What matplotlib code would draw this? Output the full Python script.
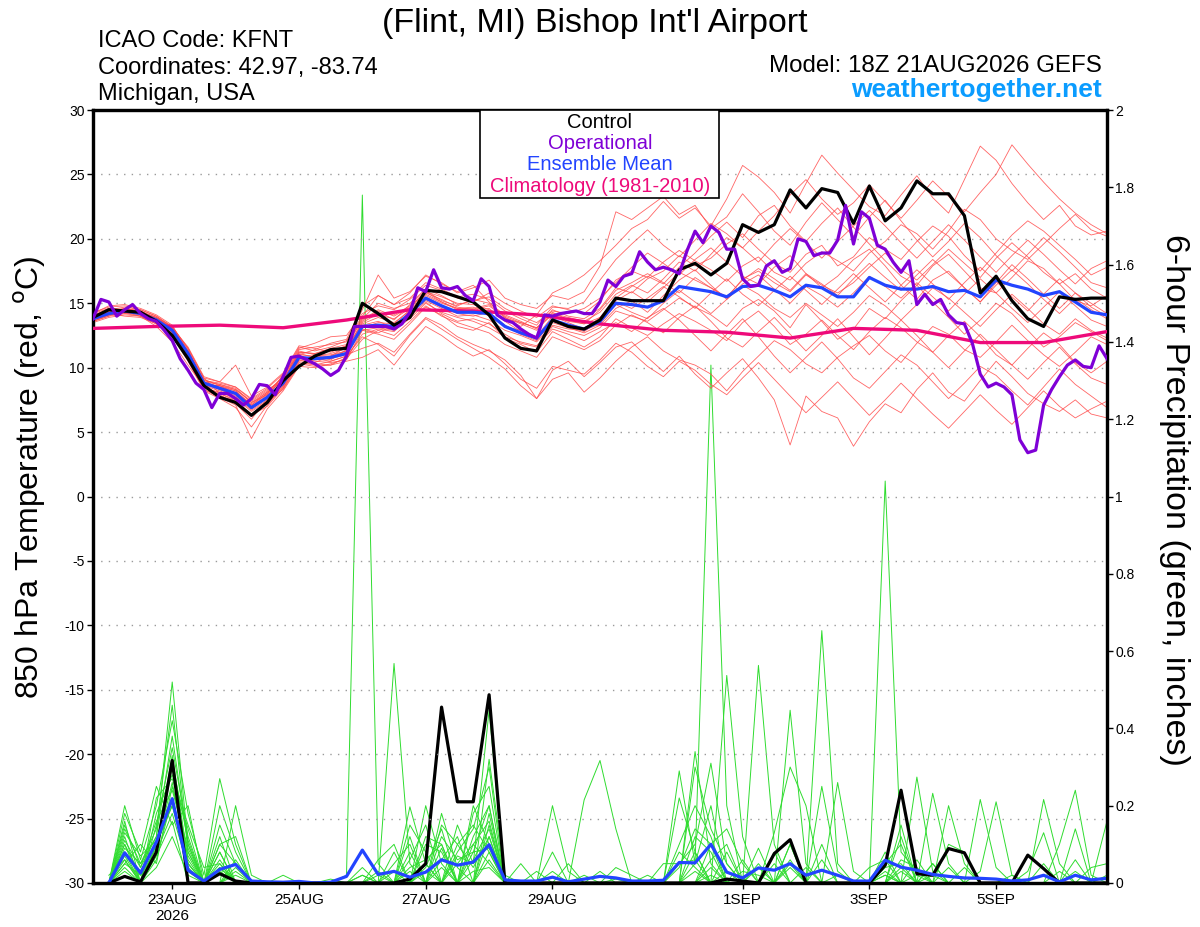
import numpy as np
import matplotlib
matplotlib.use("Agg")
import matplotlib.pyplot as plt
from matplotlib.patches import Rectangle
from matplotlib.ticker import FuncFormatter

plt.rcParams['font.family'] = ['Liberation Sans', 'DejaVu Sans']
plt.rcParams['axes.unicode_minus'] = False

# --- data (hours after 18Z 21AUG2026) ---
tick_hours = [30, 78, 126, 174, 246, 294, 342]
tick_labels = ['23AUG\n2026', '25AUG', '27AUG', '29AUG', '1SEP', '3SEP', '5SEP']

# 850 hPa temperature, 6-hourly from h0
control_temp = [13.9, 14.5, 14.4, 14.3, 13.6, 12.5, 10.7, 8.6, 7.7, 7.3, 6.3, 7.3, 9.0, 10.1, 10.9, 11.4, 11.5,
                15.0, 14.2, 13.3, 13.9, 16.0, 15.9, 15.5, 15.1, 14.1, 12.3, 11.5, 11.3, 13.7, 13.2, 13.0, 13.7,
                15.4, 15.2, 15.2, 15.2, 17.6, 18.1, 17.2, 18.1, 21.1, 20.5, 21.1, 23.8, 22.4, 23.9, 23.6, 21.2,
                24.1, 21.4, 22.4, 24.5, 23.5, 23.5, 21.8, 15.8, 17.1, 15.2, 13.8, 13.2, 15.5, 15.3, 15.4, 15.4]
mean_temp = [13.8, 14.2, 14.4, 14.2, 13.7, 12.9, 11.1, 8.8, 8.4, 8.0, 6.9, 7.7, 8.8, 10.8, 10.7, 10.8, 11.1,
             13.2, 13.3, 13.2, 14.2, 15.4, 14.8, 14.3, 14.3, 14.2, 13.2, 12.7, 12.3, 13.7, 13.3, 13.0, 13.6,
             15.0, 14.9, 14.7, 15.2, 16.3, 16.1, 15.9, 15.5, 16.3, 16.4, 16.0, 15.5, 16.4, 16.2, 15.5, 15.5,
             17.0, 16.4, 16.1, 16.1, 16.3, 15.9, 16.0, 15.5, 16.8, 16.4, 16.1, 15.6, 15.9, 15.1, 14.3, 14.1]
# operational run, 3-hourly from h0
oper_temp = [13.8, 15.3, 15.1, 14.0, 14.5, 14.9, 14.2, 13.8, 13.6, 12.9, 12.1, 10.7, 9.8, 8.8, 8.3, 6.9,
             8.0, 8.0, 7.6, 7.1, 7.6, 8.7, 8.6, 7.9, 9.3, 10.8, 10.9, 10.6, 10.3, 9.9, 9.4, 9.8,
             10.9, 13.2, 13.2, 13.2, 13.2, 13.2, 13.0, 13.4, 14.3, 16.2, 15.9, 17.6, 16.2, 16.1, 16.3, 15.6,
             15.2, 16.9, 16.3, 14.1, 13.7, 13.5, 13.0, 12.6, 12.3, 14.1, 14.0, 14.2, 14.3, 14.4, 14.2, 14.2,
             15.1, 16.8, 16.3, 17.1, 17.3, 19.0, 18.2, 17.6, 17.8, 17.6, 17.3, 19.1, 20.6, 19.7, 21.0, 20.5,
             19.2, 19.2, 16.9, 16.3, 16.4, 17.9, 18.3, 17.4, 17.7, 20.0, 19.8, 18.7, 18.9, 18.9, 19.9, 22.6,
             19.6, 22.1, 21.6, 19.5, 19.2, 18.2, 17.4, 18.3, 14.9, 15.7, 14.9, 15.3, 14.1, 13.5, 13.4, 11.9,
             9.5, 8.5, 8.8, 8.5, 7.9, 4.4, 3.4, 3.6, 7.1, 8.3, 9.3, 10.2, 10.6, 10.1, 10.0, 11.7, 10.7]
# climatology, daily
clim_temp = [13.05, 13.2, 13.3, 13.1, 13.7, 14.5, 14.4, 14.1, 13.4, 12.9, 12.75, 12.3, 13.05, 12.9,
             11.95, 11.95, 12.8]

# ensemble members, 6-hourly from h0
temp_members = [
    [14.0, 14.6, 14.3, 14.0, 13.2, 12.0, 10.2, 8.5, 7.9, 7.2, 6.0, 7.6, 9.5, 11.0, 11.4, 11.9, 12.2,
     14.8, 15.6, 14.9, 15.8, 17.2, 16.5, 15.9, 16.4, 15.1, 13.9, 13.2, 14.1, 15.8, 16.4, 17.2, 18.3,
     19.5, 20.8, 21.5, 22.9, 21.6, 22.4, 21.0, 23.1, 25.7, 24.8, 23.6, 22.0, 24.3, 26.5, 25.1, 23.8,
     22.5, 21.8, 23.4, 24.9, 23.2, 22.0, 24.6, 27.2, 26.1, 24.3, 22.8, 21.5, 22.6, 21.0, 20.3, 20.6],
    [13.6, 14.0, 14.5, 14.3, 13.9, 13.1, 11.5, 9.2, 8.0, 7.5, 6.3, 7.0, 8.4, 10.4, 10.2, 10.5, 10.9,
     12.4, 11.8, 10.9, 12.5, 13.8, 13.0, 12.2, 11.5, 10.8, 9.9, 8.6, 7.6, 9.8, 10.5, 9.3, 10.4,
     11.6, 12.0, 10.8, 9.7, 10.9, 9.5, 8.4, 9.6, 10.7, 9.2, 7.5, 4.0, 7.8, 6.6, 6.1, 3.9,
     5.8, 7.2, 6.5, 8.3, 9.6, 8.1, 7.4, 9.0, 10.5, 9.3, 8.0, 7.2, 6.6, 7.5, 6.4, 6.1],
    [13.9, 14.3, 14.6, 14.4, 13.8, 13.0, 11.0, 8.7, 8.6, 8.3, 7.4, 8.2, 9.2, 11.3, 11.0, 10.6, 11.4,
     13.6, 14.4, 13.7, 14.9, 16.0, 15.2, 14.8, 15.3, 15.0, 14.1, 13.6, 13.0, 14.5, 14.0, 13.8, 14.6,
     16.2, 15.8, 16.9, 17.5, 18.7, 17.9, 18.5, 19.6, 20.4, 19.2, 18.1, 17.4, 18.8, 19.5, 17.9, 18.6,
     20.1, 19.2, 18.4, 19.8, 21.0, 20.2, 18.7, 17.5, 18.9, 20.3, 21.4, 20.6, 19.5, 18.4, 17.2, 17.8],
    [13.7, 14.1, 14.2, 14.0, 13.5, 12.6, 10.8, 8.4, 8.1, 7.6, 6.6, 7.4, 8.3, 10.2, 10.4, 10.9, 11.3,
     12.9, 12.6, 12.2, 13.4, 14.7, 14.1, 13.2, 12.9, 13.5, 12.3, 11.8, 11.2, 12.8, 12.2, 11.6, 12.4,
     13.8, 13.1, 12.5, 13.4, 14.2, 13.6, 12.9, 12.1, 13.5, 14.4, 13.2, 11.8, 12.6, 13.7, 12.5, 11.4,
     12.8, 13.9, 13.1, 12.0, 11.2, 12.5, 13.6, 12.4, 11.0, 10.2, 11.5, 12.7, 11.8, 10.4, 9.6, 10.5],
    [14.1, 14.5, 14.7, 14.5, 14.0, 13.2, 11.4, 9.0, 8.8, 8.5, 7.5, 8.3, 9.0, 11.2, 11.1, 11.5, 11.8,
     13.9, 14.1, 13.8, 14.6, 15.9, 15.5, 15.0, 14.9, 14.5, 13.8, 13.5, 13.1, 14.1, 13.6, 13.4, 13.9,
     15.4, 16.3, 17.1, 16.5, 17.8, 18.9, 20.2, 21.3, 20.1, 21.8, 22.6, 21.0, 19.8, 21.2, 22.4, 20.9,
     19.6, 18.3, 17.1, 16.4, 17.9, 18.8, 17.5, 16.2, 15.8, 17.0, 18.3, 17.7, 16.5, 15.2, 14.8, 15.6],
    [13.5, 13.9, 14.1, 14.0, 13.4, 12.5, 10.5, 8.2, 7.6, 6.9, 5.4, 7.1, 8.6, 10.6, 10.3, 10.2, 10.8,
     12.6, 13.0, 12.8, 14.0, 15.1, 14.2, 13.6, 13.8, 13.4, 12.6, 11.9, 11.6, 13.2, 12.8, 12.5, 13.1,
     14.4, 14.0, 13.6, 14.5, 15.4, 14.7, 14.1, 13.2, 14.6, 15.3, 14.4, 13.1, 14.9, 13.6, 12.2, 13.0,
     14.6, 13.8, 15.2, 16.4, 15.1, 13.9, 12.6, 13.7, 15.0, 14.2, 12.9, 11.6, 12.4, 13.5, 12.8, 12.1],
    [14.2, 14.8, 14.9, 14.6, 14.1, 13.3, 11.2, 9.1, 8.6, 8.0, 7.1, 8.0, 9.4, 11.5, 11.9, 12.4, 12.5,
     14.2, 14.8, 14.5, 15.3, 16.4, 16.0, 15.4, 15.1, 15.8, 15.0, 14.4, 13.9, 14.8, 14.5, 14.2, 15.2,
     16.8, 17.5, 17.0, 18.2, 19.1, 18.3, 17.6, 16.7, 17.9, 18.6, 17.4, 16.8, 18.1, 19.0, 18.3, 17.5,
     18.9, 19.8, 21.1, 20.4, 19.2, 20.6, 22.3, 21.5, 20.0, 19.1, 18.4, 19.6, 20.8, 21.9, 20.7, 20.2],
    [13.8, 14.2, 14.5, 14.1, 13.6, 12.8, 10.9, 8.6, 8.2, 7.7, 6.7, 7.5, 8.5, 10.5, 10.6, 10.7, 11.0,
     11.5, 11.9, 11.2, 12.6, 13.9, 13.3, 12.4, 11.8, 11.3, 10.6, 9.4, 7.6, 9.1, 9.6, 8.1, 9.2,
     10.5, 11.6, 12.4, 11.3, 10.6, 10.2, 9.5, 8.2, 9.7, 10.9, 12.1, 11.4, 10.3, 9.6, 10.8, 11.7,
     12.5, 11.3, 10.4, 11.9, 13.2, 12.6, 11.4, 10.8, 12.0, 13.3, 12.1, 11.0, 10.1, 11.2, 12.4, 11.8],
    [14.0, 14.4, 14.3, 14.3, 13.9, 13.0, 11.3, 8.9, 8.5, 8.2, 7.0, 7.9, 9.1, 11.1, 10.8, 10.9, 11.6,
     13.4, 13.9, 13.5, 14.4, 15.6, 15.0, 14.6, 14.7, 14.0, 13.2, 12.9, 12.4, 14.0, 13.5, 13.0, 13.9,
     15.2, 15.9, 15.1, 16.2, 17.4, 16.8, 16.2, 15.4, 16.9, 17.5, 16.6, 15.9, 17.2, 16.4, 15.8, 16.6,
     17.8, 18.9, 17.6, 16.8, 18.0, 19.2, 18.1, 17.0, 18.5, 19.7, 18.6, 17.4, 16.5, 17.3, 16.1, 15.4],
    [13.6, 14.0, 14.2, 14.2, 13.8, 13.1, 11.6, 9.3, 8.9, 10.2, 7.8, 8.5, 9.6, 11.7, 11.5, 11.2, 11.7,
     13.8, 15.0, 14.6, 15.0, 16.1, 15.6, 14.9, 15.2, 15.5, 14.6, 14.0, 13.5, 14.4, 14.2, 14.6, 15.4,
     16.6, 17.8, 18.9, 18.1, 17.2, 18.4, 19.3, 18.2, 17.1, 16.5, 17.8, 18.7, 17.3, 16.2, 17.1, 18.4,
     19.2, 17.9, 16.4, 15.3, 16.8, 17.5, 16.2, 15.1, 16.6, 18.0, 16.9, 15.7, 14.6, 15.8, 15.0, 14.2],
    [13.9, 14.3, 14.4, 14.2, 13.6, 12.7, 10.7, 8.3, 7.8, 7.4, 6.4, 7.3, 8.7, 10.9, 10.5, 10.4, 10.6,
     12.9, 13.1, 12.9, 13.8, 15.0, 14.3, 13.9, 13.6, 13.1, 12.4, 12.0, 11.7, 13.0, 12.6, 12.1, 12.8,
     13.5, 12.8, 13.9, 14.6, 13.7, 12.5, 11.3, 12.6, 13.8, 12.4, 10.9, 9.6, 10.8, 12.0, 10.7, 9.2,
     8.4, 9.7, 11.0, 10.2, 8.9, 7.6, 8.8, 10.1, 9.4, 8.2, 7.1, 8.5, 9.9, 8.7, 7.8, 6.9],
    [14.3, 14.7, 14.8, 14.5, 14.0, 13.1, 11.1, 8.8, 8.3, 7.9, 6.8, 7.8, 8.9, 10.7, 10.9, 11.1, 11.5,
     13.1, 13.5, 13.4, 14.5, 15.7, 15.1, 14.5, 14.4, 14.6, 13.6, 12.8, 12.2, 13.5, 13.1, 12.7, 13.3,
     14.6, 15.2, 14.3, 15.6, 16.8, 17.6, 16.4, 15.3, 16.5, 17.2, 16.1, 15.0, 16.3, 15.6, 14.7, 15.8,
     17.1, 16.3, 15.4, 16.6, 15.5, 14.4, 15.7, 16.9, 15.8, 14.6, 13.5, 14.7, 15.9, 14.8, 13.7, 13.2],
    [13.7, 14.1, 14.6, 14.4, 13.7, 12.9, 11.0, 8.6, 8.4, 8.1, 7.2, 8.1, 9.3, 11.4, 11.6, 11.8, 12.0,
     14.5, 17.2, 15.4, 15.9, 17.1, 16.6, 15.8, 16.2, 16.8, 15.4, 14.9, 14.6, 15.6, 15.3, 15.9, 17.9,
     22.1, 21.5, 22.4, 23.3, 21.9, 22.6, 20.8, 21.7, 23.5, 22.1, 20.6, 19.5, 21.3, 22.8, 21.5, 20.2,
     21.7, 23.0, 21.4, 19.9, 18.6, 19.8, 21.2, 20.1, 18.7, 17.5, 18.8, 20.1, 19.0, 17.8, 16.6, 16.2],
    [13.8, 14.2, 14.0, 13.9, 13.4, 12.4, 10.6, 8.3, 7.7, 7.1, 4.5, 6.8, 8.2, 10.1, 10.0, 10.3, 10.7,
     12.2, 12.9, 12.5, 13.6, 14.8, 14.0, 13.5, 13.1, 12.7, 11.8, 11.3, 10.8, 12.4, 11.9, 11.4, 12.1,
     13.3, 14.1, 13.5, 12.7, 13.9, 14.8, 13.6, 12.3, 11.6, 12.8, 13.9, 12.6, 11.3, 12.5, 13.8, 12.4,
     11.0, 12.3, 13.7, 12.5, 11.2, 10.0, 11.3, 12.6, 11.4, 10.2, 9.1, 10.4, 11.6, 10.3, 9.2, 8.7],
    [14.1, 14.4, 14.6, 14.3, 13.8, 12.9, 11.3, 9.0, 8.7, 8.4, 7.3, 8.1, 9.0, 11.0, 10.9, 11.0, 11.3,
     13.5, 14.2, 14.1, 14.8, 15.8, 15.3, 14.7, 14.5, 14.8, 13.9, 13.4, 12.9, 14.2, 13.9, 13.6, 14.3,
     15.7, 16.4, 15.8, 16.9, 18.2, 17.5, 18.8, 20.1, 19.3, 20.6, 21.8, 23.4, 24.6, 23.1, 21.9, 22.8,
     24.2, 22.9, 21.6, 23.0, 24.5, 23.3, 22.1, 23.6, 25.0, 27.3, 25.8, 24.4, 23.1, 22.0, 21.1, 20.4],
    [13.6, 14.1, 14.3, 14.1, 13.7, 12.8, 11.2, 8.9, 8.7, 8.3, 7.3, 7.9, 8.6, 10.6, 10.7, 10.5, 10.9,
     13.0, 12.7, 13.3, 14.3, 15.2, 14.6, 14.0, 14.1, 13.7, 12.9, 12.5, 12.0, 13.3, 13.0, 12.9, 13.4,
     14.9, 14.3, 13.8, 15.0, 16.0, 15.1, 14.2, 15.3, 16.4, 15.7, 14.6, 13.9, 15.0, 14.1, 13.2, 14.3,
     15.6, 14.8, 13.7, 14.9, 16.2, 15.4, 14.3, 13.2, 14.5, 15.7, 14.6, 13.4, 12.6, 13.8, 12.9, 12.3],
    [14.0, 14.3, 14.5, 14.4, 13.9, 13.2, 11.5, 9.2, 8.9, 8.5, 7.6, 8.4, 9.5, 11.6, 11.3, 11.6, 12.1,
     14.0, 15.6, 14.9, 15.4, 16.6, 16.1, 15.5, 15.7, 15.3, 14.4, 13.8, 13.3, 14.7, 14.6, 15.1, 16.8,
     18.4, 19.6, 20.7, 19.5, 18.6, 19.9, 21.2, 20.4, 19.3, 18.2, 19.6, 20.8, 19.7, 18.5, 19.8, 21.0,
     22.2, 21.0, 19.7, 18.5, 19.8, 21.1, 19.9, 18.6, 17.4, 18.7, 19.9, 18.8, 17.6, 16.5, 17.7, 18.3],
    [13.8, 14.1, 14.3, 14.2, 13.6, 12.6, 10.8, 8.5, 8.0, 7.4, 6.2, 7.2, 8.4, 10.3, 10.1, 10.2, 10.5,
     10.8, 11.4, 10.2, 11.8, 13.2, 12.5, 11.6, 10.9, 11.4, 10.3, 9.1, 8.4, 10.1, 9.8, 9.5, 10.6,
     11.9, 11.2, 10.1, 9.3, 10.5, 9.8, 8.7, 7.9, 9.2, 10.4, 9.1, 7.8, 6.5, 7.7, 8.9, 7.6,
     6.3, 7.5, 8.8, 7.6, 6.4, 5.3, 6.6, 7.9, 6.7, 5.6, 6.9, 8.2, 7.0, 6.1, 6.8, 7.4],
    [13.9, 14.2, 14.4, 14.3, 13.8, 13.0, 11.1, 8.8, 8.3, 7.8, 6.8, 7.7, 8.8, 10.8, 10.7, 10.8, 11.2,
     13.3, 13.6, 13.1, 14.1, 15.3, 14.7, 14.2, 14.0, 14.3, 13.3, 12.6, 12.1, 13.6, 13.2, 12.8, 13.7,
     15.1, 14.6, 15.4, 16.3, 15.5, 14.6, 15.8, 16.9, 15.7, 14.8, 16.0, 17.1, 16.0, 14.9, 16.1, 17.3,
     16.2, 15.1, 16.4, 17.6, 16.5, 15.3, 16.6, 17.8, 16.7, 15.5, 14.4, 15.7, 16.9, 15.8, 14.7, 14.0],
    [14.2, 14.6, 14.5, 14.2, 13.7, 12.9, 11.0, 8.7, 8.6, 8.2, 7.1, 8.0, 9.0, 11.2, 11.1, 11.3, 11.7,
     13.7, 14.5, 14.0, 14.7, 15.9, 15.1, 14.6, 14.6, 14.9, 14.0, 13.5, 13.1, 14.3, 13.7, 13.4, 14.5,
     16.0, 16.6, 17.3, 16.6, 15.8, 17.0, 16.2, 15.5, 16.8, 17.7, 16.9, 16.0, 17.3, 16.5, 15.6, 16.9,
     18.1, 17.0, 16.0, 17.2, 18.4, 17.3, 16.2, 15.1, 16.4, 17.6, 16.5, 15.3, 14.2, 15.4, 14.5, 13.8],
]

# 6-hour precipitation (inches), 6-hourly from h6
control_precip = [0, 0.017, 0.003, 0.08, 0.317, 0, 0, 0.024, 0.005, 0, 0, 0, 0, 0, 0, 0, 0, 0, 0,
                  0.01, 0.05, 0.455, 0.21, 0.21, 0.487, 0, 0, 0, 0, 0, 0, 0, 0, 0, 0, 0, 0, 0, 0,
                  0.01, 0.005, 0, 0.076, 0.112, 0, 0, 0, 0, 0, 0.046, 0.24, 0.024, 0.02, 0.089, 0.078,
                  0, 0, 0, 0.072, 0.037, 0, 0, 0, 0]
mean_precip = [0, 0.078, 0.026, 0.106, 0.218, 0.033, 0.005, 0.035, 0.048, 0.005, 0.003, 0.002, 0.004,
               0, 0.002, 0.017, 0.085, 0.022, 0.03, 0.015, 0.028, 0.06, 0.046, 0.054, 0.099, 0.008,
               0.005, 0.005, 0.015, 0.003, 0.01, 0.017, 0.013, 0.005, 0.005, 0.007, 0.053, 0.052, 0.1,
               0.028, 0.013, 0.039, 0.033, 0.05, 0.02, 0.033, 0.02, 0.005, 0.005, 0.059, 0.041, 0.033,
               0.022, 0.017, 0.013, 0.012, 0.01, 0.005, 0.008, 0.02, 0.003, 0.02, 0.008, 0.012]
# ensemble member precip: {forecast hour: inches}, hours not listed are dry
precip_members = [
    {12: 0.15, 18: 0.04, 24: 0.12, 30: 0.52, 36: 0.1, 48: 0.05, 102: 0.02, 126: 0.1, 132: 0.08, 144: 0.12,
     150: 0.2, 222: 0.29, 228: 0.05, 234: 1.34, 240: 0.2, 252: 0.05, 300: 0.08, 318: 0.05, 336: 0.216,
     342: 0.04, 360: 0.05},
    {12: 0.2, 18: 0.06, 24: 0.2, 30: 0.42, 36: 0.18, 42: 0.02, 48: 0.27, 54: 0.1, 96: 0.02, 102: 1.78,
     108: 0.05, 120: 0.08, 138: 0.15, 144: 0.05, 150: 0.447, 174: 0.2, 180: 0.03, 228: 0.34, 234: 0.05,
     264: 0.1, 276: 0.653, 282: 0.05, 306: 0.12, 366: 0.1, 372: 0.24, 378: 0.02},
    {12: 0.1, 24: 0.08, 30: 0.3, 36: 0.05, 54: 0.2, 60: 0.02, 114: 0.568, 120: 0.05, 132: 0.18, 138: 0.04,
     150: 0.32, 156: 0.02, 186: 0.215, 192: 0.317, 198: 0.14, 240: 0.537, 246: 0.12, 300: 1.04, 306: 0.08,
     312: 0.03, 324: 0.2, 330: 0.05, 384: 0.16},
    {12: 0.05, 18: 0.1, 24: 0.05, 30: 0.25, 36: 0.08, 48: 0.15, 54: 0.05, 108: 0.06, 114: 0.1, 126: 0.2,
     132: 0.05, 144: 0.2, 150: 0.1, 222: 0.05, 228: 0.1, 234: 0.31, 240: 0.05, 252: 0.563, 258: 0.1,
     312: 0.274, 318: 0.03, 360: 0.216, 366: 0.05},
    {12: 0.12, 24: 0.15, 30: 0.35, 36: 0.12, 48: 0.08, 120: 0.197, 126: 0.05, 138: 0.1, 144: 0.15,
     150: 0.08, 162: 0.05, 228: 0.3, 234: 0.14, 240: 0.05, 264: 0.447, 270: 0.05, 306: 0.15, 318: 0.232,
     324: 0.05, 372: 0.14},
    {12: 0.08, 18: 0.03, 24: 0.1, 30: 0.2, 36: 0.05, 48: 0.1, 54: 0.12, 72: 0.02, 108: 0.03, 126: 0.12,
     132: 0.1, 150: 0.15, 174: 0.08, 222: 0.22, 228: 0.08, 258: 0.13, 264: 0.3, 270: 0.2, 282: 0.26,
     288: 0.03, 336: 0.03, 342: 0.21, 348: 0.02},
    {6: 0.02, 12: 0.06, 24: 0.18, 30: 0.28, 36: 0.15, 42: 0.04, 48: 0.05, 114: 0.05, 120: 0.1, 132: 0.12,
     138: 0.06, 144: 0.08, 150: 0.2, 234: 0.1, 240: 0.14, 246: 0.05, 264: 0.1, 276: 0.25, 282: 0.03,
     300: 0.04, 306: 0.05, 324: 0.1, 330: 0.08, 378: 0.04, 384: 0.05},
    {12: 0.18, 18: 0.08, 24: 0.25, 30: 0.15, 36: 0.2, 54: 0.06, 102: 0.04, 120: 0.06, 126: 0.15, 144: 0.1,
     150: 0.05, 198: 0.04, 204: 0.02, 216: 0.05, 222: 0.05, 228: 0.06, 252: 0.09, 270: 0.04, 294: 0.04,
     300: 0.06, 312: 0.06, 354: 0.03, 360: 0.13},
    {12: 0.04, 24: 0.06, 30: 0.22, 36: 0.03, 48: 0.12, 114: 0.08, 132: 0.15, 138: 0.1, 144: 0.04,
     150: 0.12, 168: 0.03, 180: 0.05, 210: 0.02, 228: 0.12, 234: 0.08, 246: 0.06, 258: 0.08, 300: 0.05,
     306: 0.1, 318: 0.05},
    {12: 0.14, 18: 0.05, 24: 0.12, 30: 0.38, 36: 0.1, 48: 0.2, 54: 0.08, 90: 0.01, 108: 0.02, 120: 0.15,
     126: 0.08, 144: 0.18, 150: 0.25, 192: 0.03, 240: 0.08, 264: 0.06, 276: 0.1, 330: 0.04, 366: 0.03},
    {12: 0.07, 24: 0.1, 30: 0.33, 36: 0.06, 48: 0.03, 132: 0.06, 138: 0.12, 150: 0.18, 222: 0.04,
     228: 0.14, 234: 0.1, 252: 0.04, 306: 0.06, 312: 0.04, 372: 0.06},
    {12: 0.1, 18: 0.02, 24: 0.08, 30: 0.18, 36: 0.04, 54: 0.04, 120: 0.04, 126: 0.06, 132: 0.1, 144: 0.06,
     150: 0.14, 228: 0.05, 234: 0.2, 258: 0.05, 300: 0.03, 324: 0.04},
    {12: 0.16, 24: 0.22, 30: 0.27, 36: 0.14, 48: 0.06, 102: 0.02, 138: 0.08, 144: 0.14, 150: 0.3,
     234: 0.06, 240: 0.1, 264: 0.05, 306: 0.04, 348: 0.02},
    {12: 0.09, 18: 0.05, 24: 0.14, 30: 0.46, 36: 0.08, 48: 0.04, 126: 0.04, 132: 0.14, 150: 0.06,
     222: 0.08, 228: 0.04, 276: 0.06, 312: 0.02},
    {12: 0.03, 24: 0.04, 30: 0.12, 36: 0.02, 54: 0.03, 120: 0.12, 144: 0.08, 150: 0.09, 186: 0.02,
     198: 0.01, 234: 0.04, 300: 0.02, 372: 0.03},
    {12: 0.11, 18: 0.04, 24: 0.16, 30: 0.24, 36: 0.09, 48: 0.08, 126: 0.05, 138: 0.05, 144: 0.1, 150: 0.16,
     228: 0.08, 240: 0.03, 282: 0.02, 318: 0.02, 384: 0.02},
    {12: 0.06, 24: 0.1, 30: 0.31, 36: 0.11, 114: 0.03, 132: 0.09, 150: 0.12, 174: 0.03, 222: 0.1,
     228: 0.2, 234: 0.12, 264: 0.04, 306: 0.03},
    {12: 0.13, 18: 0.07, 24: 0.11, 30: 0.2, 36: 0.07, 48: 0.1, 54: 0.05, 120: 0.03, 138: 0.07, 144: 0.05,
     150: 0.1, 246: 0.03, 252: 0.02},
    {12: 0.08, 24: 0.07, 30: 0.16, 48: 0.04, 132: 0.04, 150: 0.08, 228: 0.03, 300: 0.02},
    {12: 0.05, 18: 0.02, 24: 0.09, 30: 0.26, 36: 0.05, 54: 0.02, 126: 0.03, 144: 0.03, 150: 0.04,
     234: 0.02},
]

for m in temp_members:
    assert len(m) == len(mean_temp)

t6 = np.arange(len(mean_temp)) * 6
t3 = np.arange(len(oper_temp)) * 3
t24 = np.arange(len(clim_temp)) * 24
p6 = np.arange(1, len(mean_precip) + 1) * 6

RED = '#ff4a4a'
GREEN = '#2fdc2f'
BLACK = '#000000'
PURPLE = '#7f00d6'
BLUE = '#2244ff'
PINK = '#ee0a7a'

fig = plt.figure(figsize=(12, 9.27), dpi=100)
ax = fig.add_axes([0.0775, 0.0475, 0.845, 0.8338])
ax2 = ax.twinx()
# temperature axes drawn above precipitation axes
ax.set_zorder(ax2.get_zorder() + 1)
ax.patch.set_visible(False)

# precipitation (right axis)
for d in precip_members:
    vals = [d.get(int(h), 0.0) for h in p6]
    ax2.plot(p6, vals, color=GREEN, lw=0.7)
ax2.plot(p6, control_precip, color=BLACK, lw=2.3, zorder=5)
ax2.plot(p6, mean_precip, color=BLUE, lw=2.3, zorder=6)

# temperature (left axis)
for m in temp_members:
    ax.plot(t6, m, color=RED, lw=0.6, alpha=0.85)
ax.plot(t24, clim_temp, color=PINK, lw=2.4, zorder=4)
ax.plot(t6, mean_temp, color=BLUE, lw=2.3, zorder=5)
ax.plot(t6, control_temp, color=BLACK, lw=2.3, zorder=6)
ax.plot(t3, oper_temp, color=PURPLE, lw=2.3, zorder=7)

ax.set_xlim(0, 384)
ax.set_ylim(-30, 30)
ax2.set_ylim(0, 2)
ax.set_yticks(np.arange(-30, 31, 5))
ax2.set_yticks(np.arange(0, 2.01, 0.2))
ax2.yaxis.set_major_formatter(FuncFormatter(lambda v, p: f'{v:g}'))
ax.set_xticks(tick_hours)
ax.set_xticklabels(tick_labels)

ax.yaxis.grid(True, linestyle=(0, (1, 4.5)), color='#9a9a9a', lw=1.0)
ax.tick_params(axis='y', labelsize=10, length=4, width=1, direction='out', pad=2)
ax.tick_params(axis='x', labelsize=11, length=4, width=1, direction='out', pad=3)
ax2.tick_params(axis='y', labelsize=10, length=4, width=1, direction='out', pad=2)
for a in (ax, ax2):
    for s in a.spines.values():
        s.set_linewidth(2.3)

# legend box
ax.add_patch(Rectangle((0.3817, 0.886), 0.2357, 0.114, transform=ax.transAxes,
                       facecolor='white', edgecolor='black', lw=1.2, zorder=20))
legend_items = [('Control', BLACK, 0.9845), ('Operational', PURPLE, 0.957),
                ('Ensemble Mean', BLUE, 0.929), ('Climatology (1981-2010)', PINK, 0.901)]
for txt, col, yy in legend_items:
    ax.text(0.5, yy, txt, color=col, fontsize=14.5, ha='center', va='center',
            transform=ax.transAxes, zorder=21)

# header
fig.text(0.496, 0.9655, "(Flint, MI) Bishop Int'l Airport", fontsize=24.5, ha='center', va='baseline')
fig.text(0.0817, 0.9493, 'ICAO Code: KFNT', fontsize=17, ha='left', va='baseline')
fig.text(0.0817, 0.9202, 'Coordinates: 42.97, -83.74', fontsize=17, ha='left', va='baseline')
fig.text(0.0817, 0.8916, 'Michigan, USA', fontsize=17, ha='left', va='baseline')
fig.text(0.9183, 0.9223, 'Model: 18Z 21AUG2026 GEFS', fontsize=17.4, ha='right', va='baseline')
fig.text(0.9183, 0.8954, 'weathertogether.net', fontsize=19, ha='right', va='baseline',
         color='#0a9cff', fontweight='bold')

fig.text(0.025, 0.4854, r'850 hPa Temperature (red, $^{\rm o}$C)', fontsize=23,
         rotation=90, ha='center', va='center')
fig.text(0.979, 0.4606, '6-hour Precipitation (green, inches)', fontsize=24.5,
         rotation=270, ha='center', va='center')

fig.savefig('out.png', dpi=100)
